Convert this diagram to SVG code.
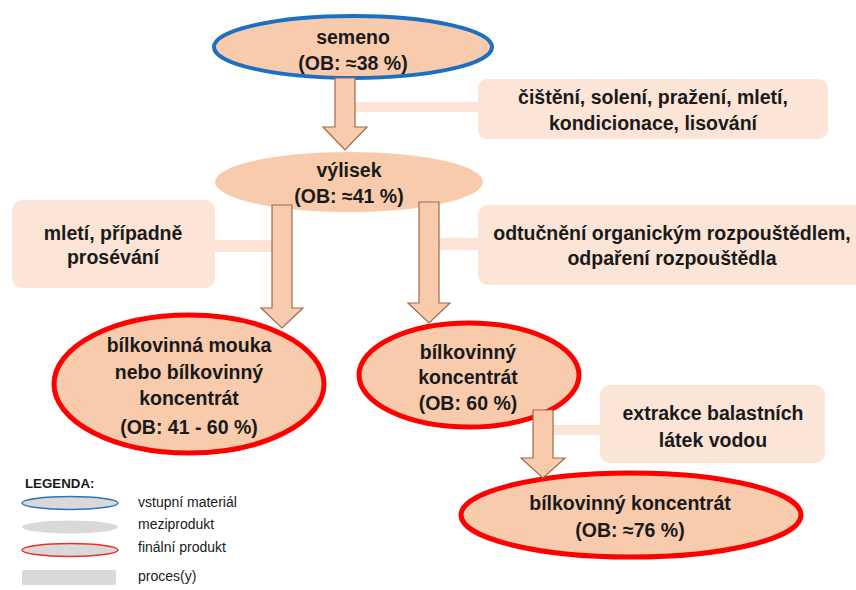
<svg xmlns="http://www.w3.org/2000/svg" width="856" height="590" viewBox="0 0 856 590">
  <style>
    .bg { fill: #ffffff; }
    .prod { fill: #f8cbad; }
    .input { stroke: #1f6fc0; stroke-width: 4; }
    .final { stroke: #ff0000; stroke-width: 5; }
    .proc { fill: #fce4d6; }
    .band { fill: #fce4d6; }
    .arrow { fill: #f8cbad; stroke: #a06a4c; stroke-width: 1.2; stroke-linejoin: miter; }
    text { font-family: "Liberation Sans", Arial, sans-serif; font-weight: bold; font-size: 19.5px; fill: #1a1a1a; text-anchor: middle; }
    .leg-title { font-size: 13.3px; text-anchor: start; }
    .leg { font-size: 14px; font-weight: normal; text-anchor: start; }
    .leg-shape { fill: #d9d9d9; }
  </style>
  <rect class="bg" x="0" y="0" width="856" height="590"/>

  <!-- connectors: side bands linking process boxes to the flow -->
  <g id="connectors">
    <rect class="band" x="355" y="102" width="125" height="10"/>
    <rect class="band" x="213" y="240" width="60" height="12"/>
    <rect class="band" x="438" y="238" width="42" height="12"/>
    <rect class="band" x="552" y="425" width="50" height="10"/>
  </g>

  <!-- process boxes -->
  <g id="proc-cisteni">
    <rect class="proc" x="478" y="79" width="350" height="60" rx="9"/>
    <text x="653" y="104">čištění, solení, pražení, mletí,</text>
    <text x="653" y="130">kondicionace, lisování</text>
  </g>
  <g id="proc-mleti">
    <rect class="proc" x="12" y="200" width="203" height="88" rx="10"/>
    <text x="113" y="240">mletí, případně</text>
    <text x="113" y="264">prosévání</text>
  </g>
  <g id="proc-odtucneni">
    <rect class="proc" x="478" y="205" width="390" height="80" rx="10"/>
    <text x="672" y="240">odtučnění organickým rozpouštědlem,</text>
    <text x="672" y="265">odpaření rozpouštědla</text>
  </g>
  <g id="proc-extrakce">
    <rect class="proc" x="600" y="385" width="225" height="78" rx="10"/>
    <text x="713" y="420">extrakce balastních</text>
    <text x="713" y="447">látek vodou</text>
  </g>

  <!-- material nodes -->
  <g id="semeno">
    <ellipse class="prod input" cx="353" cy="47" rx="139" ry="31"/>
    <text x="353" y="44">semeno</text>
    <text x="353" y="70">(OB: ≈38 %)</text>
  </g>
  <g id="vylisek">
    <ellipse class="prod" cx="349" cy="182" rx="134" ry="30"/>
    <text x="349" y="177">výlisek</text>
    <text x="349" y="203">(OB: ≈41 %)</text>
  </g>
  <g id="mouka">
    <ellipse class="prod final" cx="189" cy="384" rx="135" ry="69"/>
    <text x="189" y="352">bílkovinná mouka</text>
    <text x="189" y="379">nebo bílkovinný</text>
    <text x="189" y="405">koncentrát</text>
    <text x="189" y="434">(OB: 41 - 60 %)</text>
  </g>
  <g id="koncentrat60">
    <ellipse class="prod final" cx="469" cy="375" rx="110" ry="52"/>
    <text x="468" y="359">bílkovinný</text>
    <text x="468" y="384">koncentrát</text>
    <text x="468" y="410">(OB: 60 %)</text>
  </g>
  <g id="koncentrat76">
    <ellipse class="prod final" cx="631" cy="515" rx="170" ry="42"/>
    <text x="630" y="510">bílkovinný koncentrát</text>
    <text x="630" y="537">(OB: ≈76 %)</text>
  </g>

  <!-- block arrows -->
  <g id="arrows">
    <polygon class="arrow" points="335,78 355,78 355,127 367,127 345,150 323,127 335,127"/>
    <polygon class="arrow" points="272,205 292,205 292,308 303,308 282,328 261,308 272,308"/>
    <polygon class="arrow" points="419,202 439,202 439,303 450,303 429,323 408,303 419,303"/>
    <polygon class="arrow" points="533,410 553,410 553,458 565,458 543,478 521,458 533,458"/>
  </g>

  <!-- legend -->
  <g id="legend">
    <text class="leg-title" x="25" y="488">LEGENDA:</text>
    <ellipse class="leg-shape" cx="70" cy="503" rx="48" ry="6.5" stroke="#2e75b6" stroke-width="1.5"/>
    <text class="leg" x="138" y="507">vstupní materiál</text>
    <ellipse class="leg-shape" cx="70" cy="527" rx="48" ry="6.5"/>
    <text class="leg" x="138" y="529">meziprodukt</text>
    <ellipse class="leg-shape" cx="70" cy="550" rx="48" ry="6.5" stroke="#e8302a" stroke-width="1.5"/>
    <text class="leg" x="138" y="552">finální produkt</text>
    <rect class="leg-shape" x="22" y="570" width="94" height="15" rx="2"/>
    <text class="leg" x="138" y="581">proces(y)</text>
  </g>
</svg>
